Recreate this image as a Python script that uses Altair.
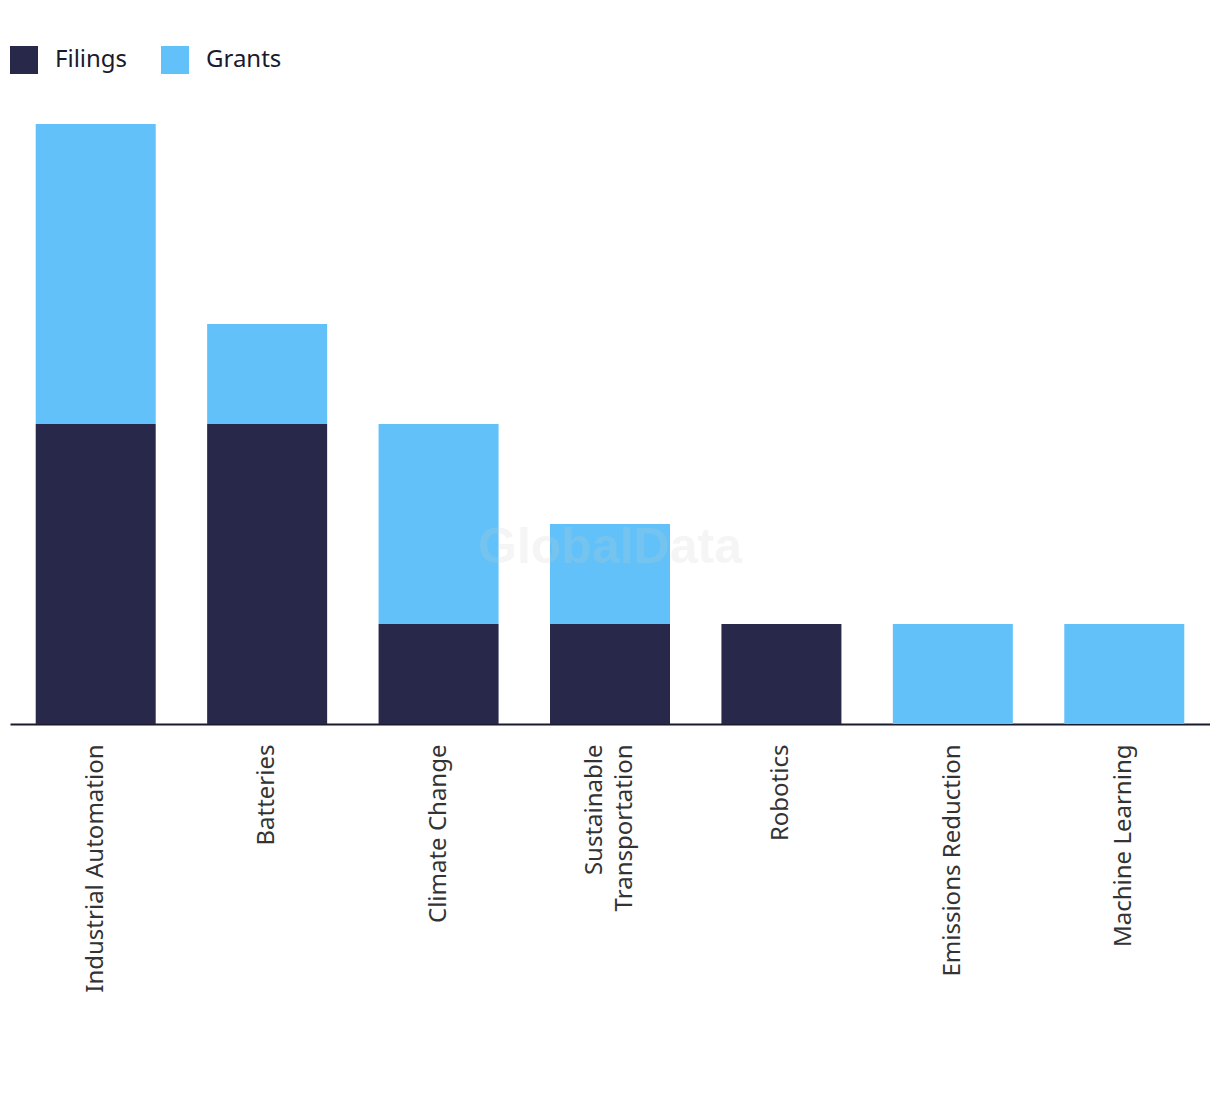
import altair as alt
import pandas as pd

categories = ["Industrial Automation", "Batteries", "Climate Change",
              "Sustainable Transportation", "Robotics", "Emissions Reduction",
              "Machine Learning"]
filings = [3, 3, 1, 1, 1, 0, 0]
grants = [3, 1, 2, 1, 0, 1, 1]
series = ["Filings", "Grants"]
colors = ["#28284a", "#62c1f8"]

rows = []
for c, f, g in zip(categories, filings, grants):
    if f:
        rows.append({"category": c, "series": "Filings", "value": f, "ord": 0})
    if g:
        rows.append({"category": c, "series": "Grants", "value": g, "ord": 1})
df = pd.DataFrame(rows)

FONT = "Noto Sans"

bars = alt.Chart(df).mark_bar().encode(
    x=alt.X("category:N", sort=categories,
            scale=alt.Scale(paddingInner=0.3, paddingOuter=0.15),
            axis=alt.Axis(title=None, labelAngle=-90, labelAlign="right",
                          labelBaseline="middle", labelFontSize=24,
                          labelFont=FONT, labelColor="#333333",
                          labelPadding=20, ticks=False, domainColor="#1a1a2e",
                          domainWidth=2, labelLimit=400, labelLineHeight=30,
                          labelOffset=alt.condition("datum.value == 'Sustainable Transportation'",
                                                    alt.value(-15), alt.value(0)),
                          labelExpr="datum.value == 'Sustainable Transportation' ? ['Sustainable', 'Transportation'] : datum.value")),
    y=alt.Y("value:Q", stack="zero", scale=alt.Scale(domain=[0, 6], nice=False),
            axis=None),
    color=alt.Color("series:N", scale=alt.Scale(domain=series, range=colors),
                    legend=alt.Legend(title=None, orient="none", direction="horizontal",
                                      legendX=0, legendY=-78, symbolType="square",
                                      symbolSize=784, symbolStrokeWidth=0,
                                      labelFontSize=24, labelFont=FONT,
                                      labelColor="#1a1a2e", labelOffset=17,
                                      columnPadding=33, padding=0)),
    order=alt.Order("ord:Q", sort="ascending"),
)

watermark = alt.Chart(pd.DataFrame({"t": ["GlobalData"]})).mark_text(
    font="Liberation Sans", fontSize=50, fontWeight="bold", color="#cccccc", opacity=0.18,
    align="center", baseline="middle"
).encode(x=alt.value(600), y=alt.value(424), text="t:N")

chart = alt.layer(bars, watermark).properties(
    width=1200, height=600,
    autosize=alt.AutoSizeParams(type="none"),
    padding={"left": 2, "top": 116, "right": 0, "bottom": 362},
).configure_view(stroke=None)

chart.save("out.html", embed_options={"renderer": "svg", "actions": False})
